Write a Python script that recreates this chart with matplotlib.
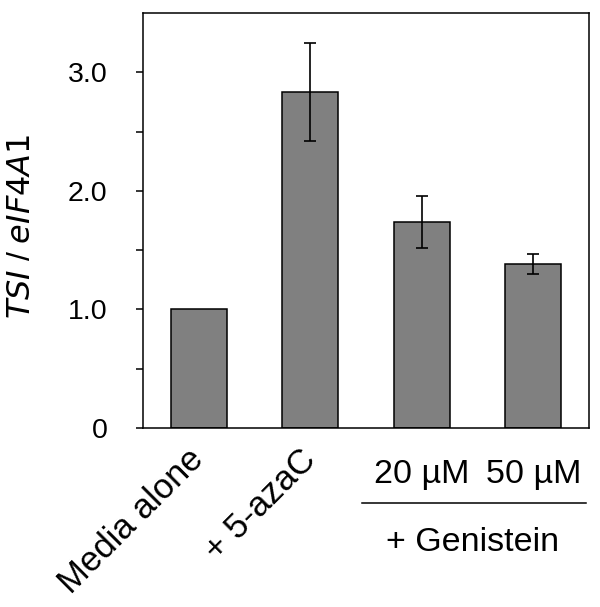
import matplotlib
matplotlib.use('Agg')
import matplotlib.pyplot as plt
import matplotlib.transforms as mtransforms
import numpy as np

plt.rcParams['font.family'] = ['Liberation Sans', 'DejaVu Sans']

# data
categories = ['Media alone', '+ 5-azaC', '20 µM', '50 µM']
values = [1.0, 2.835, 1.74, 1.38]
errors = [0.0, 0.415, 0.22, 0.085]
rotated_labels = ['Media alone', '+ 5-azaC', '', '']
group_labels = ['', '', '20 µM', '50 µM']
group_name = '+ Genistein'

fig = plt.figure(figsize=(6.0, 6.07), dpi=100)
ax = fig.add_axes([143 / 600, 1 - 428 / 607, 446 / 600, 415 / 607])

x = np.arange(len(categories))
ax.bar(x, values, width=0.5, color='#808080', edgecolor='black', linewidth=1.1, zorder=2)
ax.errorbar(x[1:], values[1:], yerr=errors[1:], fmt='none', ecolor='black',
            elinewidth=1.2, capsize=4, capthick=1.2, zorder=3)

ax.set_xlim(-0.5, 3.5)
ax.set_ylim(0, 3.5)
ax.set_yticks([0, 0.5, 1.0, 1.5, 2.0, 2.5, 3.0])
ax.set_yticklabels(['0', '', '1.0', '', '2.0', '', '3.0'], fontsize=20.5)
ax.tick_params(axis='y', direction='out', length=5, width=1.1, pad=20.5)
ax.set_xticks(x)
ax.set_xticklabels(rotated_labels, fontsize=25, rotation=45, ha='right',
                   va='center', rotation_mode='anchor')
ax.tick_params(axis='x', length=0, pad=19)
for sp in ax.spines.values():
    sp.set_linewidth(1.1)
    sp.set_color('black')

ax.set_ylabel('$\\it{TSI}$ / $\\it{eIF4A1}$', fontsize=23)
ax.yaxis.set_label_coords(-0.238, 0.487)

# genistein group annotation below the axis
trans = mtransforms.blended_transform_factory(ax.transData, ax.transAxes)
for xi, lab in zip(x, group_labels):
    if lab:
        ax.text(xi, -0.113, lab, transform=trans, ha='center', va='center',
                fontsize=24.5, clip_on=False)
ax.plot([1.46, 3.47], [-0.181, -0.181], transform=trans, color='black',
        linewidth=1.1, clip_on=False)
ax.text(2.46, -0.275, group_name, transform=trans, ha='center', va='center',
        fontsize=24.5, clip_on=False)

fig.savefig('out.png', dpi=100, facecolor='white')
